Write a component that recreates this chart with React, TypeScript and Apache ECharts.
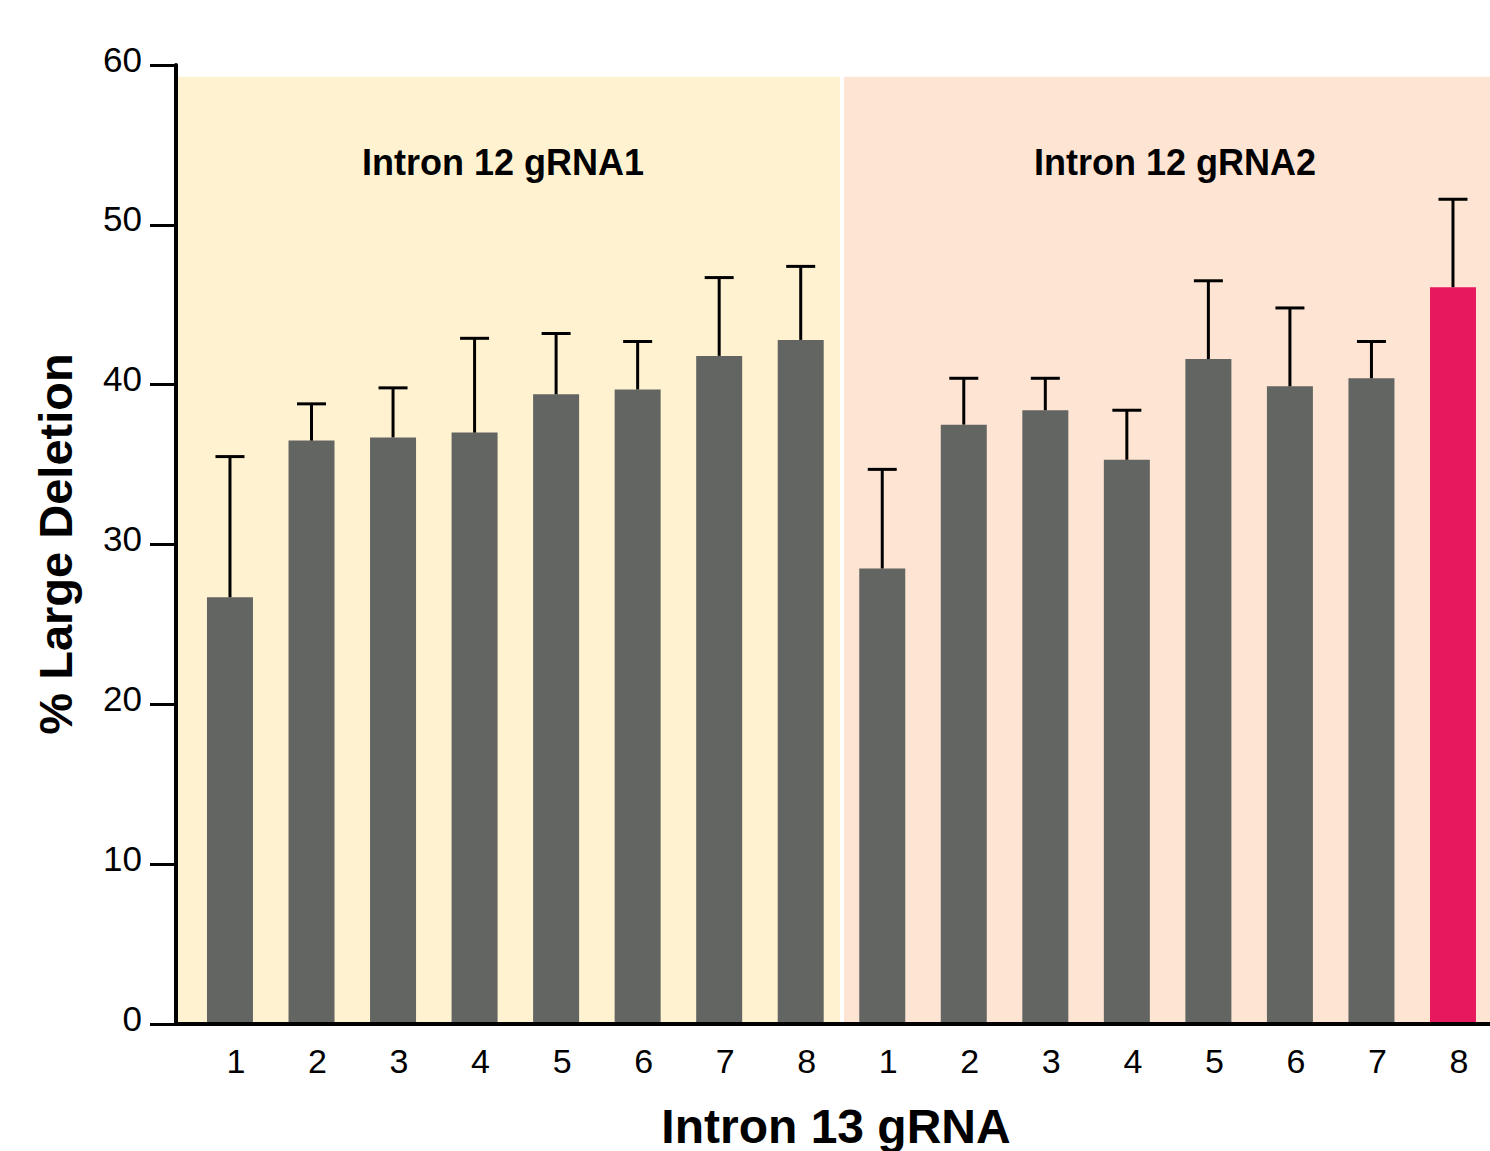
import React, { useEffect, useRef } from "react";
import * as echarts from "echarts";

const categories = ["1", "2", "3", "4", "5", "6", "7", "8", "1", "2", "3", "4", "5", "6", "7", "8"];
const means = [26.7, 36.5, 36.7, 37.0, 39.4, 39.7, 41.8, 42.8, 28.5, 37.5, 38.4, 35.3, 41.6, 39.9, 40.4, 46.1];
const errors = [8.8, 2.3, 3.1, 5.9, 3.8, 3.0, 4.9, 4.6, 6.2, 2.9, 2.0, 3.1, 4.9, 4.9, 2.3, 5.5];
const highlightIndex = 15;
const groupNames = ["Intron 12 gRNA1", "Intron 12 gRNA2"];
const yTicks = [0, 10, 20, 30, 40, 50, 60];

const FONT = "'Liberation Sans', Arial, Helvetica, sans-serif";

export default function App() {
  const ref = useRef<HTMLDivElement>(null);
  useEffect(() => {
    document.body.style.margin = "0";
    if (!ref.current) return;
    const chart = echarts.init(ref.current, undefined, { renderer: "svg" });
    const idx = categories.map((_, i) => i);
    const option: any = {
      animation: false,
      backgroundColor: "#ffffff",
      grid: { left: 176, right: 0, top: 65, bottom: 127 },
      xAxis: {
        type: "value",
        min: -0.662,
        max: 15.454,
        z: 10,
        splitLine: { show: false },
        axisLine: { show: true, onZero: false, lineStyle: { color: "#000", width: 4 } },
        axisTick: { show: false },
        axisLabel: {
          customValues: idx,
          formatter: (v: number) => categories[Math.round(v)] ?? "",
          fontSize: 34,
          color: "#000",
          fontFamily: FONT,
          margin: 20,
          padding: [0, 0, 0, 12],
        },
      },
      yAxis: {
        type: "value",
        min: yTicks[0],
        max: yTicks[yTicks.length - 1],
        interval: 10,
        z: 10,
        splitLine: { show: false },
        axisLine: { show: true, onZero: false, lineStyle: { color: "#000", width: 4 } },
        axisTick: { show: true, length: 26, lineStyle: { color: "#000", width: 3 } },
        axisLabel: {
          fontSize: 35,
          color: "#000",
          fontFamily: FONT,
          margin: 34,
          verticalAlign: "bottom",
          lineHeight: 12,
        },
      },
      graphic: [
        {
          type: "text",
          x: 55,
          y: 544,
          rotation: Math.PI / 2,
          style: {
            text: "% Large Deletion",
            fontSize: 47,
            fontWeight: "bold",
            fontFamily: FONT,
            fill: "#000",
            align: "center",
            verticalAlign: "middle",
          },
        },
        {
          type: "text",
          x: 836,
          y: 1126,
          style: {
            text: "Intron 13 gRNA",
            fontSize: 48,
            fontWeight: "bold",
            fontFamily: FONT,
            fill: "#000",
            align: "center",
            verticalAlign: "middle",
          },
        },
      ],
      series: [
        {
          type: "line",
          data: [],
          z: 1,
          silent: true,
          markArea: {
            silent: true,
            label: {
              show: true,
              position: "insideTop",
              distance: 68,
              fontSize: 36,
              fontWeight: "bold",
              color: "#000",
              fontFamily: FONT,
            },
            data: [
              [
                {
                  name: groupNames[0],
                  xAxis: -0.638,
                  yAxis: 0,
                  itemStyle: { color: "#FFF2D0" },
                  label: { offset: [-6, 0] },
                },
                { xAxis: 7.482, yAxis: 59.26 },
              ],
              [
                {
                  name: groupNames[1],
                  xAxis: 7.531,
                  yAxis: 0,
                  itemStyle: { color: "#FEE4D3" },
                  label: { offset: [8, 0] },
                },
                { xAxis: 15.454, yAxis: 59.26 },
              ],
            ],
          },
        },
        {
          type: "bar",
          z: 2,
          barWidth: 46,
          data: means.map((m, i) => ({
            value: [i, m],
            itemStyle: { color: i === highlightIndex ? "#E8185F" : "#636562" },
          })),
        },
        {
          type: "custom",
          z: 3,
          data: means.map((m, i) => [i, m, errors[i]]),
          renderItem: (params: any, api: any) => {
            const x = api.value(0);
            const m = api.value(1);
            const e = api.value(2);
            const p0 = api.coord([x, m]);
            const p1 = api.coord([x, m + e]);
            const style = { stroke: "#000", lineWidth: 3 };
            return {
              type: "group",
              children: [
                { type: "line", shape: { x1: p0[0], y1: p0[1], x2: p1[0], y2: p1[1] }, style },
                { type: "line", shape: { x1: p1[0] - 14.5, y1: p1[1], x2: p1[0] + 14.5, y2: p1[1] }, style },
              ],
            };
          },
        },
      ],
    };
    chart.setOption(option);
    return () => chart.dispose();
  }, []);
  return <div ref={ref} style={{ width: 1490, height: 1151 }} />;
}
